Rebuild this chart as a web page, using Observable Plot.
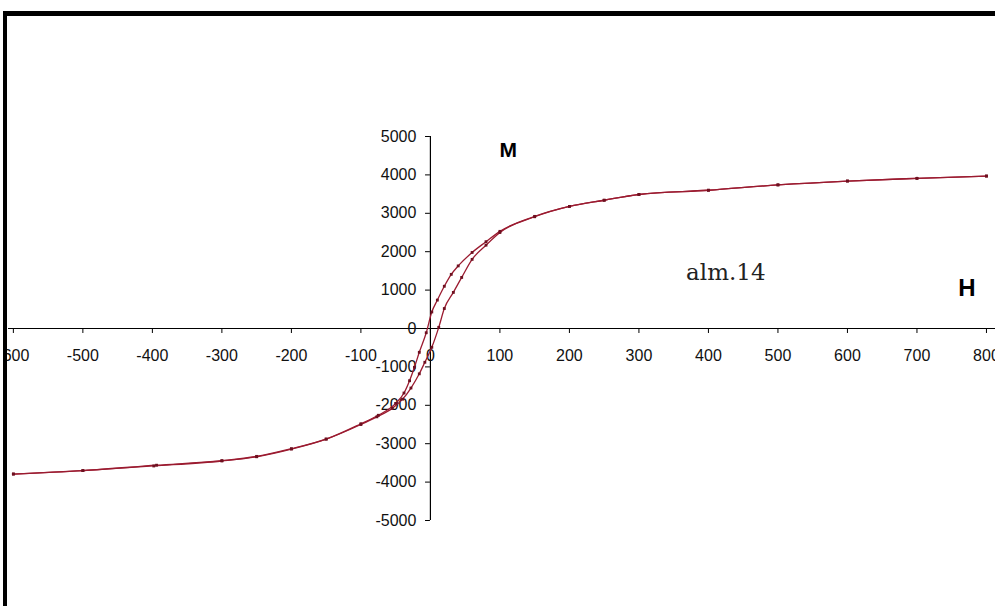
<!DOCTYPE html>
<html>
<head>
<meta charset="utf-8">
<script src="https://cdn.jsdelivr.net/npm/d3@7"></script>
<script src="https://cdn.jsdelivr.net/npm/@observablehq/plot@0.6"></script>
<style>
  html, body { margin: 0; padding: 0; background: #fff; overflow: hidden; }
  #wrap { position: relative; width: 995px; height: 606px; }
  #chart svg { display: block; }
  #white { position: absolute; left: 0; top: 0; width: 3px; height: 606px; background: #fff; }
  #border { position: absolute; left: 3px; top: 11px; width: 995px; height: 600px;
            border-left: 4px solid #000; border-top: 5px solid #000; pointer-events: none; }
</style>
</head>
<body>
<div id="wrap">
  <div id="chart"></div>
  <div id="white"></div>
  <div id="border"></div>
</div>
<script>
// Descending branch (from +800 down to -600)
const descH = [800,700,600,500,400,300,250,200,150,100,80,60,40,30,20,10,2,-6,-16,-23,-30,-38,-50,-75,-100,-150,-200,-250,-300,-398,-500,-600];
const descM = [3970,3910,3840,3740,3600,3490,3340,3180,2920,2530,2260,1980,1630,1410,1100,740,430,-110,-620,-1010,-1360,-1680,-1950,-2260,-2480,-2880,-3140,-3340,-3450,-3580,-3700,-3790];
// Ascending branch (from -600 up to +800)
const ascH = [-600,-500,-394,-300,-250,-200,-150,-100,-77,-55,-40,-28,-16,-8,2,12,20,33,45,60,80,100,150,200,250,300,400,500,600,700,800];
const ascM = [-3790,-3700,-3560,-3440,-3330,-3130,-2880,-2500,-2300,-2080,-1840,-1550,-1180,-880,-490,30,520,940,1330,1800,2170,2500,2910,3180,3340,3490,3600,3740,3840,3910,3970];

const xTicks = [-600,-500,-400,-300,-200,-100,0,100,200,300,400,500,600,700,800];
const yTicks = [-5000,-4000,-3000,-2000,-1000,0,1000,2000,3000,4000,5000];

const labelM = "M";
const labelH = "H";
const sampleName = "alm.14";

const desc = descH.map((h, i) => ({H: h, M: descM[i]})).sort((a, b) => a.H - b.H);
const asc = ascH.map((h, i) => ({H: h, M: ascM[i]})).sort((a, b) => a.H - b.H);

const lineColor = "#9b1b30";
const dotColor = "#6e1020";
const sans = "'Liberation Sans', Arial, sans-serif";

const chart = Plot.plot({
  width: 995,
  height: 606,
  marginLeft: 8,
  marginRight: 0,
  marginTop: 136,
  marginBottom: 86,
  style: {background: "#fff", fontFamily: sans, overflow: "visible"},
  x: {domain: [-607, 813], axis: null},
  y: {domain: [-5000, 5000], axis: null},
  marks: [
    Plot.ruleY([0], {stroke: "#000", strokeWidth: 1.2}),
    Plot.ruleX([0], {y1: -5000, y2: 5000, stroke: "#000", strokeWidth: 1.2}),
    Plot.ruleX(xTicks, {x: d => d, y1: 0, y2: -130, stroke: "#000"}),
    Plot.ruleY(yTicks, {y: d => d, x1: 0, x2: -7, stroke: "#000"}),
    Plot.text(xTicks, {x: d => d, y: 0, dy: 27, text: d => String(d), fontSize: 16, fill: "#111", textAnchor: "middle"}),
    Plot.text(yTicks, {x: 0, y: d => d, dx: -14, text: d => String(d), fontSize: 16, fill: "#111", textAnchor: "end"}),
    Plot.line(desc, {x: "H", y: "M", stroke: lineColor, strokeWidth: 1.3, curve: "monotone-x"}),
    Plot.line(asc, {x: "H", y: "M", stroke: lineColor, strokeWidth: 1.3, curve: "monotone-x"}),
    Plot.dot(desc, {x: "H", y: "M", r: 1.6, symbol: "square", fill: dotColor, stroke: null}),
    Plot.dot(asc, {x: "H", y: "M", r: 1.6, symbol: "square", fill: dotColor, stroke: null}),
    Plot.text([labelM], {x: 112, y: 4650, text: d => d, fontSize: 21, fontWeight: "bold", fill: "#000", textAnchor: "middle"}),
    Plot.text([labelH], {x: 772, y: 1050, text: d => d, fontSize: 24, fontWeight: "bold", fill: "#000", textAnchor: "middle"}),
    Plot.text([sampleName], {x: 425, y: 1450, text: d => d, fontSize: 23, fontFamily: "'DejaVu Serif', serif", fill: "#222", textAnchor: "middle"})
  ]
});
document.getElementById("chart").appendChild(chart);
</script>
</body>
</html>
